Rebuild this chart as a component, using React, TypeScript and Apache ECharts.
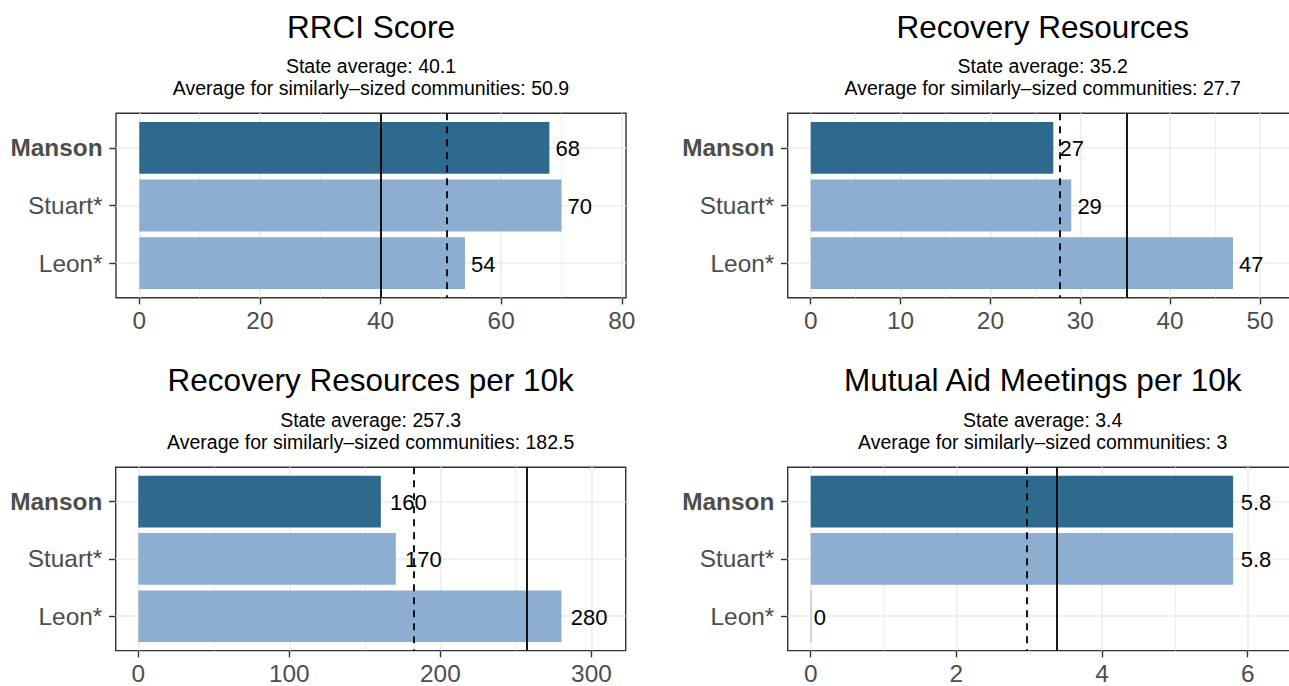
import React, { useEffect, useRef } from 'react';
import * as echarts from 'echarts';

// ---------------- data ----------------
const categories = ['Manson', 'Stuart*', 'Leon*'];
const panelTitles = ['RRCI Score', 'Recovery Resources', 'Recovery Resources per 10k', 'Mutual Aid Meetings per 10k'];

const rrciValues = [68, 70, 54];
const resourcesValues = [27, 29, 47];
const resourcesPer10kValues = [160.6, 170.5, 280.2];
const meetingsPer10kValues = [5.8, 5.8, 0];

const stateAverages = [40.1, 35.2, 257.3, 3.38];
const similarAverages = [50.9, 27.7, 182.5, 2.97];

const rrciTicks = [0, 20, 40, 60, 80];
const resourcesTicks = [0, 10, 20, 30, 40, 50];
const resourcesPer10kTicks = [0, 100, 200, 300];
const meetingsPer10kTicks = [0, 2, 4, 6];

const rrciMinor = [10, 30, 50, 70];
const resourcesMinor = [5, 15, 25, 35, 45];
const resourcesPer10kMinor = [50, 150, 250];
const meetingsPer10kMinor = [1, 3, 5];

const xLimits = [
  [-3.86, 80.7],
  [-2.56, 54.2],
  [-14.95, 322.7],
  [-0.316, 6.687],
];

// ---------------- styles / layout ----------------
const FONT = "'Liberation Sans', Arial, Helvetica, sans-serif";
const DARK = '#2E6A8E';
const LIGHT = '#8DAED1';
const GRID_COLOR = '#EBEBEB';
const BORDER = '#333333';
const AXIS_TEXT = '#4D4D4D';
const CHART_W = 1310;
const CHART_H = 686;
const PANEL_W = 510;
const PANEL_H = 184.4;
const panelLayout = [
  { left: 116, top: 113.3 },
  { left: 787.7, top: 113.3 },
  { left: 115.7, top: 467.2 },
  { left: 787.7, top: 467.2 },
];
const LABEL_SIZE = 22;

const fmt1 = (v: number) => String(Math.round(v * 10) / 10);
const fmtSignif = (v: number) => String(Number(v.toPrecision(2)));
const textWidth = (s: string, size: number) =>
  s.split('').reduce((a, c) => a + (c === '.' ? 0.278 : 0.556), 0) * size;

function buildOption() {
  const valuesList = [rrciValues, resourcesValues, resourcesPer10kValues, meetingsPer10kValues];
  const ticksList = [rrciTicks, resourcesTicks, resourcesPer10kTicks, meetingsPer10kTicks];
  const minorList = [rrciMinor, resourcesMinor, resourcesPer10kMinor, meetingsPer10kMinor];

  const grid: any[] = [];
  const xAxis: any[] = [];
  const yAxis: any[] = [];
  const series: any[] = [];
  const title: any[] = [];

  valuesList.forEach((values, i) => {
    const lay = panelLayout[i];
    grid.push({
      left: lay.left,
      top: lay.top,
      width: PANEL_W,
      height: PANEL_H,
      show: true,
      backgroundColor: '#fff',
      borderColor: BORDER,
      borderWidth: 1.4,
      containLabel: false,
    });
    xAxis.push({
      type: 'value',
      gridIndex: i,
      min: xLimits[i][0],
      max: xLimits[i][1],
      axisLine: { show: false, onZero: false },
      axisTick: {
        show: true,
        customValues: ticksList[i],
        length: 6.7,
        lineStyle: { color: BORDER, width: 1.4 },
      },
      axisLabel: {
        customValues: ticksList[i],
        color: AXIS_TEXT,
        fontSize: 24.4,
        lineHeight: 24.4,
        fontFamily: FONT,
        margin: 11,
        formatter: (v: number) => String(v),
      },
      splitLine: { show: false },
      minorSplitLine: { show: false },
    });
    yAxis.push({
      type: 'value',
      gridIndex: i,
      inverse: true,
      min: 0.4,
      max: 3.6,
      axisLine: { show: false, onZero: false },
      axisTick: {
        show: true,
        customValues: [1, 2, 3],
        length: 6.7,
        lineStyle: { color: BORDER, width: 1.4 },
      },
      axisLabel: {
        customValues: [1, 2, 3],
        color: AXIS_TEXT,
        fontSize: 24.4,
        lineHeight: 24.4,
        fontFamily: FONT,
        margin: 13.4,
        formatter: (v: number) => {
          const name = categories[Math.round(v) - 1] || '';
          return Math.round(v) === 1 ? `{b|${name}}` : name;
        },
        rich: {
          b: { fontWeight: 'bold', fontSize: 24.4, color: AXIS_TEXT, fontFamily: FONT, lineHeight: 24.4 },
        },
      },
      splitLine: { show: false },
    });

    // background grid lines
    const gridLines: any[] = [];
    minorList[i].forEach((v) =>
      gridLines.push({ xAxis: v, lineStyle: { color: GRID_COLOR, width: 0.8, type: 'solid' } })
    );
    ticksList[i].forEach((v) =>
      gridLines.push({ xAxis: v, lineStyle: { color: GRID_COLOR, width: 1.5, type: 'solid' } })
    );
    [1, 2, 3].forEach((v) =>
      gridLines.push({ yAxis: v, lineStyle: { color: GRID_COLOR, width: 1.5, type: 'solid' } })
    );
    series.push({
      type: 'line',
      xAxisIndex: i,
      yAxisIndex: i,
      data: [],
      z: 1,
      silent: true,
      markLine: {
        z: 1,
        silent: true,
        symbol: ['none', 'none'],
        label: { show: false },
        emphasis: { disabled: true },
        data: gridLines,
      },
    });

    // bars + value labels
    series.push({
      type: 'custom',
      xAxisIndex: i,
      yAxisIndex: i,
      z: 3,
      clip: false,
      encode: { x: 0, y: 1 },
      data: values.map((v, k) => [v, k + 1]),
      renderItem: (params: any, api: any) => {
        const v = api.value(0);
        const pos = api.value(1);
        const idx = params.dataIndex;
        const p0 = api.coord([0, pos - 0.45]);
        const p1 = api.coord([v, pos + 0.45]);
        const w = Math.max(p1[0] - p0[0], 0.8);
        const label = fmtSignif(v);
        return {
          type: 'group',
          children: [
            {
              type: 'rect',
              shape: { x: p0[0], y: p0[1], width: w, height: p1[1] - p0[1] },
              style: { fill: idx === 0 ? DARK : LIGHT },
            },
            {
              type: 'text',
              x: p1[0] + 0.25 * textWidth(label, LABEL_SIZE),
              y: (p0[1] + p1[1]) / 2 + 1,
              style: {
                text: label,
                fill: '#000',
                fontSize: LABEL_SIZE,
                fontFamily: FONT,
                align: 'left',
                verticalAlign: 'middle',
              },
            },
          ],
        };
      },
    });

    // reference lines
    series.push({
      type: 'line',
      xAxisIndex: i,
      yAxisIndex: i,
      data: [],
      z: 5,
      silent: true,
      markLine: {
        z: 6,
        silent: true,
        symbol: ['none', 'none'],
        label: { show: false },
        emphasis: { disabled: true },
        data: [
          { xAxis: stateAverages[i], lineStyle: { color: '#000', width: 1.8, type: 'solid' } },
          { xAxis: similarAverages[i], lineStyle: { color: '#000', width: 1.8, type: [7, 6] } },
        ],
      },
    });

    title.push({
      text: panelTitles[i],
      subtext: `State average: ${fmt1(stateAverages[i])}\nAverage for similarly\u2013sized communities: ${fmt1(similarAverages[i])}`,
      left: lay.left + PANEL_W / 2,
      top: lay.top - 102.5,
      textAlign: 'center',
      padding: 0,
      itemGap: 12.5,
      textStyle: { fontSize: 31.5, fontWeight: 'normal', color: '#000', fontFamily: FONT, lineHeight: 31.5 },
      subtextStyle: { fontSize: 19.5, color: '#000', fontFamily: FONT, lineHeight: 21.7 },
    });
  });

  return {
    animation: false,
    backgroundColor: '#fff',
    textStyle: { fontFamily: FONT },
    title,
    grid,
    xAxis,
    yAxis,
    series,
  };
}

export default function App() {
  const ref = useRef<HTMLDivElement>(null);
  useEffect(() => {
    document.body.style.margin = '0';
    document.body.style.overflow = 'hidden';
    document.documentElement.style.overflow = 'hidden';
    const chart = echarts.init(ref.current!, null, { renderer: 'svg' });
    chart.setOption(buildOption() as any);
    return () => chart.dispose();
  }, []);
  return <div ref={ref} style={{ width: CHART_W, height: CHART_H }} />;
}
